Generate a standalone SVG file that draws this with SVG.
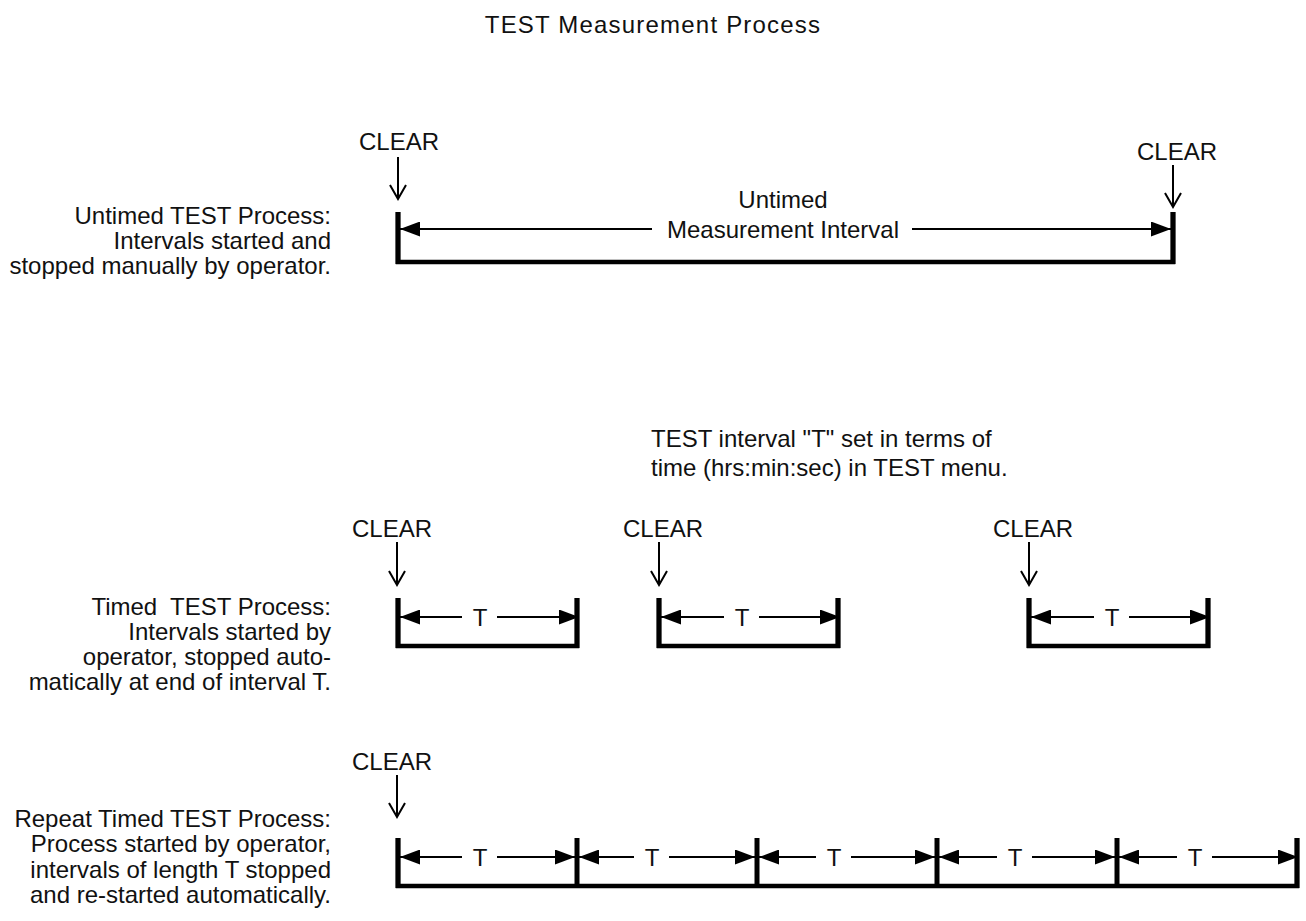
<svg xmlns="http://www.w3.org/2000/svg" width="1306" height="921" viewBox="0 0 1306 921">
<style>
text{font-family:"Liberation Sans",Arial,sans-serif;font-size:24px;fill:#111}
.r{text-anchor:end}
.m{text-anchor:middle}
.br{fill:none;stroke:#000;stroke-width:4.5;stroke-linejoin:miter;stroke-linecap:butt}
.bar{stroke:#000;stroke-width:5}
.dim{stroke:#000;stroke-width:2;fill:none;marker-end:url(#ah)}
.dn{stroke:#000;stroke-width:2;fill:none;marker-end:url(#vh)}
</style>
<defs>
<marker id="ah" markerUnits="userSpaceOnUse" viewBox="0 0 20 15" refX="20" refY="7.5" markerWidth="20" markerHeight="15" orient="auto">
<path d="M0,0 L20,7.5 L0,15 z" fill="#000"/>
</marker>
<marker id="vh" markerUnits="userSpaceOnUse" viewBox="-16 -10 18 20" refX="0" refY="0" markerWidth="18" markerHeight="20" orient="auto">
<path d="M-14,-8 L0,0 L-14,8" fill="none" stroke="#000" stroke-width="2"/>
</marker>
</defs>

<g id="title"><text x="653" y="33" class="m" letter-spacing="1.2">TEST Measurement Process</text></g>

<g id="label-untimed">
<text x="331" y="224" class="r">Untimed TEST Process:</text>
<text x="331" y="249" class="r">Intervals started and</text>
<text x="331" y="274" class="r">stopped manually by operator.</text>
</g>

<g id="label-timed">
<text x="331" y="615" class="r" xml:space="preserve">Timed  TEST Process:</text>
<text x="331" y="640" class="r">Intervals started by</text>
<text x="331" y="665" class="r">operator, stopped auto-</text>
<text x="331" y="690" class="r">matically at end of interval T.</text>
</g>

<g id="label-repeat">
<text x="331" y="827" class="r">Repeat Timed TEST Process:</text>
<text x="331" y="852" class="r">Process started by operator,</text>
<text x="331" y="878" class="r">intervals of length T stopped</text>
<text x="331" y="903" class="r">and re-started automatically.</text>
</g>

<g id="note-interval">
<text x="651" y="447">TEST interval "T" set in terms of</text>
<text x="651" y="476">time (hrs:min:sec) in TEST menu.</text>
</g>

<g id="clear-labels">
<text x="359" y="150">CLEAR</text>
<text x="1137" y="160">CLEAR</text>
<text x="352" y="537">CLEAR</text>
<text x="623" y="537">CLEAR</text>
<text x="993" y="537">CLEAR</text>
<text x="352" y="770">CLEAR</text>
</g>

<g id="untimed-interval">
<path class="br" d="M398,212 V262 H1173 V212"/>
<line class="bar" x1="398" y1="212" x2="398" y2="264"/>
<line class="bar" x1="1173" y1="212" x2="1173" y2="264"/>
<text x="783" y="208" class="m">Untimed</text>
<text x="783" y="238" class="m">Measurement Interval</text>
</g>

<g id="timed-interval-1">
<path class="br" d="M398,598 V646 H577 V598"/>
<line class="bar" x1="398" y1="598" x2="398" y2="648"/>
<line class="bar" x1="577" y1="598" x2="577" y2="648"/>
<text x="480" y="626" class="m">T</text>
</g>
<g id="timed-interval-2">
<path class="br" d="M659,598 V646 H838 V598"/>
<line class="bar" x1="659" y1="598" x2="659" y2="648"/>
<line class="bar" x1="838" y1="598" x2="838" y2="648"/>
<text x="742" y="626" class="m">T</text>
</g>
<g id="timed-interval-3">
<path class="br" d="M1029,598 V646 H1208 V598"/>
<line class="bar" x1="1029" y1="598" x2="1029" y2="648"/>
<line class="bar" x1="1208" y1="598" x2="1208" y2="648"/>
<text x="1112" y="626" class="m">T</text>
</g>

<g id="repeat-intervals">
<path class="br" d="M398,838 V886 H1297 V838"/>
<line class="bar" x1="398" y1="838" x2="398" y2="888"/>
<line class="bar" x1="577" y1="838" x2="577" y2="888"/>
<line class="bar" x1="757" y1="838" x2="757" y2="888"/>
<line class="bar" x1="937" y1="838" x2="937" y2="888"/>
<line class="bar" x1="1117" y1="838" x2="1117" y2="888"/>
<line class="bar" x1="1297" y1="838" x2="1297" y2="888"/>
<text x="480" y="866" class="m">T</text>
<text x="652" y="866" class="m">T</text>
<text x="834" y="866" class="m">T</text>
<text x="1015" y="866" class="m">T</text>
<text x="1195" y="866" class="m">T</text>
</g>

<g id="connectors">
<line class="dn" x1="398" y1="157" x2="398" y2="199"/>
<line class="dn" x1="1173" y1="165" x2="1173" y2="207"/>
<line class="dn" x1="397" y1="542" x2="397" y2="585"/>
<line class="dn" x1="659" y1="542" x2="659" y2="585"/>
<line class="dn" x1="1029" y1="542" x2="1029" y2="585"/>
<line class="dn" x1="397" y1="775" x2="397" y2="817"/>
<line class="dim" x1="652" y1="229" x2="400" y2="229"/>
<line class="dim" x1="912" y1="229" x2="1171" y2="229"/>
<line class="dim" x1="462" y1="617" x2="400" y2="617"/>
<line class="dim" x1="497" y1="617" x2="579" y2="617"/>
<line class="dim" x1="724" y1="617" x2="661" y2="617"/>
<line class="dim" x1="759" y1="617" x2="840" y2="617"/>
<line class="dim" x1="1094" y1="617" x2="1031" y2="617"/>
<line class="dim" x1="1129" y1="617" x2="1210" y2="617"/>
<line class="dim" x1="462" y1="857" x2="400" y2="857"/>
<line class="dim" x1="497" y1="857" x2="575" y2="857"/>
<line class="dim" x1="634" y1="857" x2="579" y2="857"/>
<line class="dim" x1="669" y1="857" x2="755" y2="857"/>
<line class="dim" x1="816" y1="857" x2="759" y2="857"/>
<line class="dim" x1="851" y1="857" x2="935" y2="857"/>
<line class="dim" x1="997" y1="857" x2="939" y2="857"/>
<line class="dim" x1="1032" y1="857" x2="1115" y2="857"/>
<line class="dim" x1="1177" y1="857" x2="1119" y2="857"/>
<line class="dim" x1="1212" y1="857" x2="1298" y2="857"/>
</g>
</svg>
